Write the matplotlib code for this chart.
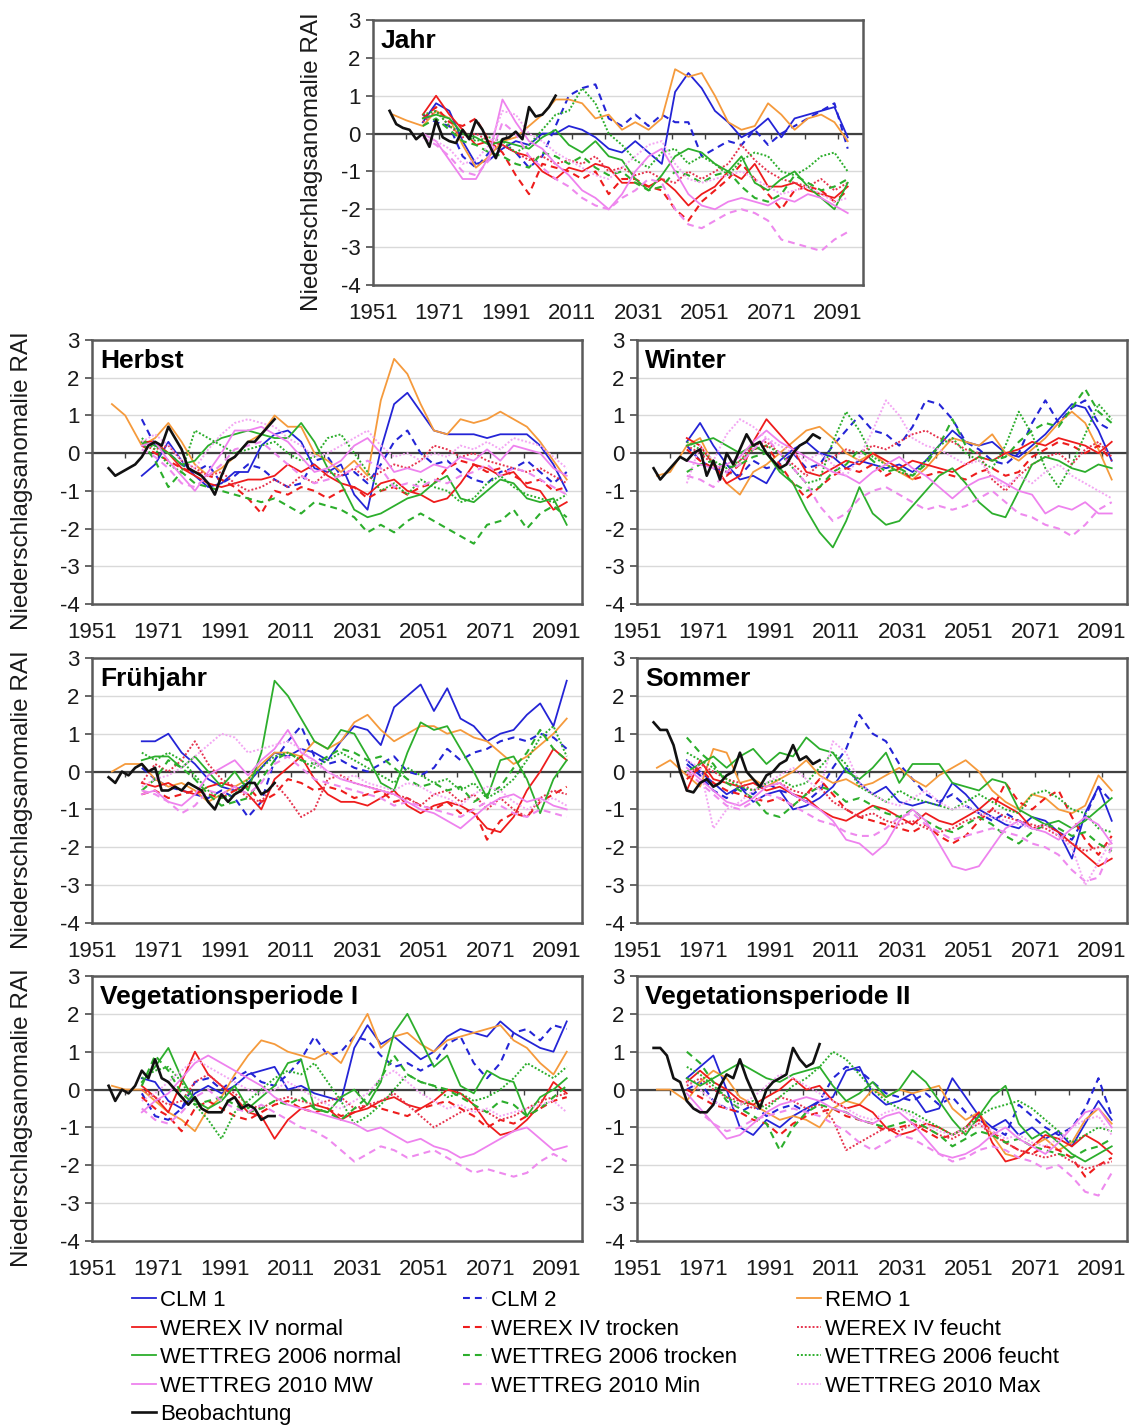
import numpy as np
import matplotlib.pyplot as plt
from matplotlib.lines import Line2D

plt.rcParams['font.family'] = ['Liberation Sans', 'DejaVu Sans']
plt.rcParams['axes.unicode_minus'] = False

# moving-average years: projections, REMO (starts earlier), observations
years = np.arange(1966, 2095, 4)
remo_years = np.concatenate([[1957, 1961], years])
obs_years = np.arange(1956, 2007, 2)

# ---------------- Jahr ----------------
jahr_clm1 = [0.3, 0.8, 0.6, -0.2, -0.8, -0.7, -0.4, -0.2, -0.3, 0.0, 0.0,
             0.2, 0.1, -0.1, -0.4, -0.5, -0.2, -0.5, -0.8, 1.1, 1.6, 1.2,
             0.6, 0.3, -0.1, 0.1, 0.4, -0.1, 0.4, 0.5, 0.6, 0.7, -0.1]
jahr_clm2 = [0.5, 0.3, 0.2, -0.6, -0.9, -0.5, -0.3, -0.5, -0.9, -0.6, 0.2,
             1.0, 1.2, 1.3, 0.4, 0.2, 0.5, 0.2, 0.5, 0.3, 0.3, -0.6,
             -0.4, -0.2, -0.3, 0.1, -0.3, 0.0, 0.2, 0.4, 0.6, 0.8, -0.4]
jahr_remo = [0.5, 0.35,
             0.2, 0.6, 0.4, -0.3, -0.9, -0.6, -0.2, -0.1, 0.2, 0.5, 0.9,
             0.9, 0.8, 0.4, 0.5, 0.1, 0.3, 0.1, 0.4, 1.7, 1.5, 1.6,
             1.0, 0.3, 0.1, 0.2, 0.8, 0.5, 0.1, 0.4, 0.5, 0.3, -0.2]
jahr_werex_n = [0.5, 1.0, 0.5, 0.1, -0.3, -0.2, -0.3, -0.5, -0.6, -1.0, -1.2,
                -0.9, -1.0, -0.8, -0.9, -1.3, -1.3, -1.4, -1.2, -1.5, -1.9, -1.6,
                -1.4, -1.0, -1.2, -0.8, -1.4, -1.4, -1.3, -1.5, -1.6, -1.7, -1.4]
jahr_werex_t = [0.4, 0.7, 0.3, 0.2, 0.4, -0.2, -0.5, -1.1, -1.6, -0.8, -0.9,
                -1.0, -1.2, -1.0, -1.6, -1.2, -1.2, -1.4, -1.5, -2.0, -2.3, -1.8,
                -1.5, -1.2, -0.8, -1.2, -1.6, -2.0, -1.5, -1.4, -1.5, -1.8, -1.5]
jahr_werex_f = [0.3, 0.6, 0.2, -0.1, 0.0, -0.2, -0.3, -0.5, -0.7, -0.6, -0.8,
                -0.7, -0.8, -0.6, -1.0, -0.9, -1.1, -1.0, -1.2, -1.3, -1.0, -1.2,
                -1.0, -0.8, -0.3, -0.7, -1.0, -1.2, -1.3, -1.4, -1.2, -1.5, -1.3]
jahr_w06_n = [0.4, 0.5, 0.4, 0.0, -0.1, -0.3, -0.2, -0.3, -0.4, -0.1, 0.1,
              -0.3, -0.5, -0.2, -0.6, -0.7, -1.2, -1.5, -1.1, -0.6, -0.4, -0.5,
              -0.8, -1.0, -0.6, -1.3, -1.5, -1.2, -1.0, -1.4, -1.7, -2.0, -1.3]
jahr_w06_t = [0.2, 0.4, 0.1, -0.2, -0.3, -0.5, -0.6, -0.8, -0.9, -0.5, -0.6,
              -0.8, -0.6, -0.9, -1.1, -1.0, -1.3, -1.5, -1.4, -1.0, -1.1, -1.3,
              -1.1, -1.0, -1.4, -1.7, -1.8, -1.6, -1.1, -1.3, -1.5, -1.4, -1.2]
jahr_w06_f = [0.5, 0.6, 0.2, 0.0, -0.2, -0.1, -0.2, -0.5, -0.3, 0.1, 0.5,
              0.6, 1.2, 0.8, 0.0, -0.3, -0.7, -0.9, -0.5, -0.4, -0.8, -0.6,
              -0.8, -1.1, -0.7, -0.5, -0.6, -1.0, -1.1, -0.9, -0.6, -0.5, -1.0]
jahr_w10_mw = [0.0, -0.2, -0.7, -1.2, -1.2, -0.6, 0.9, 0.3, -0.2, -0.4, -0.8,
               -1.1, -1.5, -1.7, -2.0, -1.6, -1.0, -0.6, -0.4, -1.0, -1.6, -1.9,
               -2.0, -1.8, -1.7, -1.8, -1.9, -1.7, -1.8, -1.6, -1.7, -1.9, -2.1]
jahr_w10_min = [-0.1, -0.3, -0.6, -1.0, -1.1, -0.7, 0.3, 0.0, -0.6, -0.9, -1.2,
                -1.4, -1.7, -1.9, -2.0, -1.7, -1.5, -1.2, -1.3, -2.0, -2.4, -2.5,
                -2.3, -2.1, -2.0, -2.1, -2.3, -2.8, -2.9, -3.0, -3.1, -2.8, -2.6]
jahr_w10_max = [0.0, -0.2, -0.4, -0.8, -0.7, -0.3, 0.6, 0.5, 0.0, -0.2, -0.5,
                -0.7, -0.9, -1.1, -1.2, -0.9, -0.6, -0.3, -0.2, -0.8, -1.2, -1.3,
                -1.2, -1.1, -1.0, -1.2, -1.4, -1.6, -1.5, -1.4, -1.6, -1.8, -1.7]
jahr_obs = [0.6, 0.25, 0.15, 0.1, -0.15, 0.0, -0.35, 0.35, -0.1, -0.2, -0.25, 0.1, -0.15,
            0.35, 0.1, -0.3, -0.65, -0.15, -0.1, 0.05, -0.15, 0.7, 0.45, 0.5, 0.7, 1.0]

# ---------------- Herbst ----------------
herbst_clm1 = [-0.6, -0.3, 0.3, -0.2, -0.6, -0.9, -0.8, -0.5, -0.5, 0.2, 0.5,
               0.6, 0.3, -0.4, -0.5, -0.3, -1.1, -1.5, 0.1, 1.3, 1.6, 1.1,
               0.6, 0.5, 0.5, 0.5, 0.4, 0.5, 0.5, 0.5, 0.2, -0.3, -1.0]
herbst_clm2 = [0.9, 0.2, 0.0, -0.3, -0.5, -0.3, -0.8, -0.6, -0.3, -0.4, -0.7,
               -0.9, -0.8, -0.2, -0.1, -0.6, -0.5, -0.8, -0.3, 0.3, 0.6, 0.0,
               -0.3, -0.2, -0.5, -0.7, -0.8, -0.5, -0.4, -0.2, -0.5, -0.8, -0.5]
herbst_remo = [1.3, 1.0,
               0.2, 0.4, 0.8, 0.3, -0.3, -0.6, -0.4, -0.1, 0.3, 0.5, 1.0,
               0.7, 0.7, 0.0, -0.2, -0.5, -0.2, -0.6, 1.4, 2.5, 2.1, 1.3,
               0.6, 0.5, 0.9, 0.8, 0.9, 1.1, 0.9, 0.7, 0.3, -0.2, -0.7]
herbst_werex_n = [0.3, 0.3, 0.0, -0.4, -0.6, -0.8, -0.9, -0.8, -0.7, -0.7, -0.6,
                  -0.3, -0.5, -0.3, -0.6, -0.8, -0.9, -1.1, -0.8, -0.7, -1.0, -1.1,
                  -1.3, -1.2, -0.8, -0.3, -0.4, -0.6, -0.5, -0.9, -1.0, -1.5, -1.3]
herbst_werex_t = [0.2, 0.0, -0.2, -0.4, -0.5, -0.6, -0.7, -0.9, -1.2, -1.6, -1.0,
                  -1.1, -0.9, -1.0, -1.2, -1.0, -0.9, -1.2, -1.0, -0.9, -1.1, -0.9,
                  -0.8, -0.4, -0.2, -0.3, -0.5, -0.4, -0.6, -0.8, -0.7, -1.0, -0.9]
herbst_werex_f = [0.2, 0.1, 0.2, -0.2, -0.4, -0.6, -0.5, -0.8, -1.0, -0.9, -0.7,
                  -0.9, -0.6, -0.8, -0.5, -0.6, -0.4, -0.7, -0.5, -0.3, -0.4, -0.2,
                  0.2, 0.1, -0.1, 0.0, -0.2, -0.3, -0.4, -0.5, -0.4, -0.6, -0.8]
herbst_w06_n = [0.3, 0.2, 0.0, -0.3, -0.2, 0.2, 0.4, 0.5, 0.6, 0.5, 0.4,
                0.4, 0.8, 0.3, -0.4, -0.8, -1.5, -1.7, -1.6, -1.4, -1.2, -1.1,
                -0.8, -0.6, -1.2, -1.3, -1.0, -0.7, -0.8, -1.2, -1.3, -1.2, -1.9]
herbst_w06_t = [0.3, -0.2, -0.9, -0.5, -0.8, -0.9, -1.0, -1.1, -1.2, -1.3, -1.2,
                -1.4, -1.6, -1.3, -1.4, -1.5, -1.7, -2.1, -1.9, -2.1, -1.8, -1.6,
                -1.8, -2.0, -2.2, -2.4, -1.9, -1.8, -1.5, -2.0, -1.6, -1.4, -1.7]
herbst_w06_f = [0.4, 0.1, -0.3, -0.5, 0.6, 0.4, 0.2, 0.0, 0.1, 0.2, 0.3,
                0.0, -0.2, -0.1, 0.4, 0.5, 0.0, -0.5, -1.0, -0.8, -1.1, -0.7,
                -0.9, -1.0, -1.3, -1.2, -0.8, -0.6, -0.9, -1.1, -1.2, -1.3, -1.1]
herbst_w10_mw = [0.2, 0.3, -0.2, -0.6, -1.0, -0.5, 0.0, 0.6, 0.6, 0.7, 0.5,
                 0.3, -0.1, -0.5, -0.4, -0.2, 0.2, 0.4, 0.0, -0.5, -0.4, -0.5,
                 -0.3, -0.4, -0.1, -0.2, 0.1, -0.2, 0.2, 0.1, 0.0, -0.4, -0.6]
herbst_w10_min = [0.1, -0.1, -0.4, -0.8, -0.9, -0.6, -0.3, 0.1, 0.2, 0.3, 0.0,
                  -0.3, -0.6, -0.8, -0.7, -0.6, -0.4, -0.2, -0.4, -0.9, -0.8, -0.9,
                  -0.7, -0.8, -0.6, -0.5, -0.3, -0.6, -0.4, -0.5, -0.7, -0.9, -1.1]
herbst_w10_max = [0.3, 0.5, 0.2, -0.2, -0.4, 0.1, 0.5, 0.8, 0.9, 0.8, 0.7,
                  0.4, 0.2, -0.1, 0.0, 0.2, 0.4, 0.6, 0.2, -0.1, 0.0, -0.2,
                  0.0, -0.1, 0.2, 0.1, 0.3, 0.1, 0.4, 0.3, 0.2, -0.1, -0.4]
herbst_obs = [-0.4, -0.6, -0.5, -0.4, -0.3, -0.1, 0.2, 0.3, 0.2, 0.7, 0.4, 0.1, -0.4,
              -0.5, -0.6, -0.8, -1.1, -0.6, -0.2, -0.1, 0.1, 0.3, 0.3, 0.5, 0.7, 0.9]

# ---------------- Winter ----------------
winter_clm1 = [0.3, 0.8, 0.2, -0.3, -0.7, -0.6, -0.8, -0.2, 0.1, 0.3, 0.0,
               -0.1, -0.4, -0.2, -0.3, -0.4, -0.3, -0.5, -0.2, 0.2, 0.6, 0.3,
               0.2, 0.3, 0.0, -0.1, 0.2, 0.5, 0.9, 1.3, 1.2, 0.6, -0.2]
winter_clm2 = [0.2, -0.2, -0.4, -0.5, -0.6, -0.2, -0.4, -0.3, 0.0, -0.4, -0.3,
               0.2, 0.6, 1.0, 0.6, 0.5, 0.2, 0.7, 1.4, 1.3, 0.9, 0.3,
               0.1, -0.2, -0.3, 0.0, 0.8, 1.4, 0.8, 1.2, 1.4, 0.8, 0.6]
winter_remo = [-0.6, -0.5,
               0.2, 0.4, -0.3, -0.8, -1.1, -0.5, -0.3, 0.0, 0.3, 0.6, 0.7,
               0.4, 0.0, -0.2, 0.0, -0.3, -0.5, -0.7, -0.4, 0.0, 0.4, 0.3,
               0.2, 0.5, 0.0, -0.2, 0.1, 0.4, 0.8, 1.1, 0.8, 0.1, -0.7]
winter_werex_n = [0.4, 0.2, -0.3, -0.8, -0.6, 0.3, 0.9, 0.5, 0.1, -0.5, -0.6,
                  -0.4, -0.2, -0.3, 0.0, -0.2, -0.4, -0.2, -0.3, -0.4, -0.5, -0.3,
                  -0.1, -0.2, 0.0, 0.1, 0.3, 0.2, 0.4, 0.3, 0.2, 0.0, 0.3]
winter_werex_t = [0.1, -0.2, -0.4, -0.6, -0.3, 0.1, 0.2, -0.3, -0.8, -1.2, -0.9,
                  -0.6, -0.4, -0.5, -0.3, -0.6, -0.4, -0.7, -0.6, -0.5, -0.6, -0.7,
                  -0.5, -0.4, -0.6, -0.5, -0.1, 0.1, 0.3, 0.2, 0.0, 0.2, -0.2]
winter_werex_f = [0.2, 0.0, -0.3, -0.5, -0.2, 0.2, 0.3, 0.0, -0.3, -0.6, -0.3,
                  -0.1, 0.1, 0.0, 0.2, 0.1, 0.3, 0.5, 0.6, 0.4, 0.3, 0.1,
                  0.0, -0.7, -1.0, -0.6, -0.3, -0.1, 0.0, -0.3, 0.1, 0.3, -0.1]
winter_w06_n = [0.2, 0.3, 0.4, 0.2, 0.0, 0.2, 0.0, -0.5, -0.8, -1.5, -2.1,
                -2.5, -1.8, -0.9, -1.6, -1.9, -1.8, -1.4, -1.0, -0.6, -0.4, -0.8,
                -1.3, -1.6, -1.7, -1.0, -0.3, -0.1, -0.2, -0.4, -0.5, -0.3, -0.4]
winter_w06_t = [-0.5, -0.3, -0.2, -0.4, -0.3, -0.1, 0.0, -0.4, -0.8, -1.0, -0.9,
                -0.5, -0.3, 0.1, -0.2, -0.5, -0.4, -0.6, -0.3, 0.2, 0.9, 0.2,
                -0.1, -0.2, -0.1, 0.3, 0.6, 0.8, 0.7, 1.2, 1.7, 1.1, 0.8]
winter_w06_f = [0.3, 0.1, -0.2, -0.4, -0.2, 0.1, 0.2, 0.0, -0.4, -0.8, -0.7,
                0.3, 1.1, 0.6, -0.1, -0.3, -0.5, -0.6, -0.2, 0.2, 0.4, 0.0,
                -0.2, -0.4, 0.2, 1.1, 0.5, -0.4, -0.9, -0.3, 0.5, 1.3, 0.9]
winter_w10_mw = [-0.2, -0.3, -0.4, -0.3, -0.1, 0.3, 0.6, 0.3, 0.1, -0.1, -0.3,
                 -0.5, -0.6, -0.8, -0.5, -0.3, -0.1, -0.4, -0.6, -0.9, -1.2, -0.9,
                 -0.7, -0.6, -0.8, -1.0, -1.1, -1.6, -1.4, -1.5, -1.3, -1.6, -1.6]
winter_w10_min = [-0.6, -0.7, -0.9, -0.5, -0.3, 0.1, 0.4, 0.0, -0.4, -0.8, -1.4,
                  -1.8, -1.6, -1.2, -1.0, -0.9, -1.1, -1.3, -1.5, -1.4, -1.5, -1.4,
                  -1.2, -1.0, -1.3, -1.6, -1.7, -1.9, -2.0, -2.2, -1.9, -1.5, -1.3]
winter_w10_max = [-0.8, 0.2, -0.2, 0.5, 0.9, 0.7, 0.4, 0.2, 0.0, -0.2, 0.0,
                  -0.3, -0.6, -0.1, 0.6, 1.4, 1.0, 0.4, 0.2, 0.1, -0.1, -0.3,
                  -0.2, -0.6, -0.9, -0.6, -0.8, -0.5, -0.3, -0.6, -0.8, -1.0, -1.2]
winter_obs = [-0.4, -0.7, -0.5, -0.3, -0.1, -0.2, 0.0, 0.1, -0.6, -0.2, -0.7, 0.0, -0.3,
              0.1, 0.5, 0.2, 0.3, 0.0, -0.2, -0.4, -0.3, 0.0, 0.2, 0.3, 0.5, 0.4]

# ---------------- Frühjahr ----------------
fruehjahr_clm1 = [0.8, 0.8, 1.0, 0.5, 0.2, -0.2, -0.4, -0.5, -0.3, 0.1, 0.5,
                  0.4, 0.6, 0.5, 0.3, 0.8, 1.2, 1.1, 0.7, 1.7, 2.0, 2.3,
                  1.6, 2.2, 1.4, 1.2, 0.8, 1.0, 1.1, 1.5, 1.8, 1.2, 2.4]
fruehjahr_clm2 = [0.1, -0.2, -0.4, -0.5, -0.6, -0.7, -0.5, -0.7, -1.2, -0.8, 0.3,
                  0.8, 1.2, 0.4, 0.2, 0.3, 0.1, 0.0, 0.2, 0.4, 0.0, -0.1,
                  0.1, 0.6, 0.3, 0.5, 0.6, 0.8, 0.9, 0.8, 1.0, 0.9, 0.6]
fruehjahr_remo = [0.0, 0.2,
                  0.2, -0.2, -0.4, -0.3, -0.5, -0.8, -0.6, -0.4, -0.2, 0.2, 0.5,
                  0.5, 0.4, 0.8, 0.6, 0.8, 1.3, 1.5, 1.1, 0.8, 1.0, 1.2,
                  1.2, 1.0, 1.1, 0.9, 0.8, 0.5, 0.2, 0.4, 0.7, 1.0, 1.4]
fruehjahr_werex_n = [-0.3, -0.4, -0.3, -0.5, -0.6, -0.4, -0.3, -0.4, -0.6, -1.0, -0.2,
                     0.1, 0.4, -0.2, -0.6, -0.8, -0.8, -0.9, -0.7, -0.5, -0.9, -1.1,
                     -0.9, -0.8, -0.9, -1.1, -1.5, -1.6, -1.2, -0.5, 0.0, 0.6, 0.3]
fruehjahr_werex_t = [-0.6, -0.5, -0.7, -0.6, -0.5, -0.6, -0.7, -0.5, -0.4, -0.8, -0.6,
                     -0.2, -0.3, -0.5, -0.4, -0.5, -0.7, -0.6, -0.5, -0.8, -0.7, -0.9,
                     -1.0, -0.8, -1.1, -1.0, -1.8, -1.3, -1.1, -1.2, -0.8, -0.6, -0.4]
fruehjahr_werex_f = [-0.3, 0.2, 0.0, 0.3, 0.8, 0.2, -0.2, -0.4, -0.7, -0.8, -0.3,
                     -0.7, -1.2, -1.0, -0.2, -0.1, -0.3, -0.4, -0.5, -0.6, -0.7, -0.9,
                     -0.6, -0.5, -0.8, -0.6, -1.0, -0.7, -1.0, -1.2, -0.7, -0.5, -0.6]
fruehjahr_w06_n = [0.3, 0.4, 0.4, 0.1, 0.4, 0.0, -0.4, 0.0, -0.5, 0.5, 2.4,
                   2.0, 1.4, 0.8, 0.6, 1.1, 1.0, 0.4, -0.3, -0.5, 0.5, 1.3,
                   1.1, 1.2, 0.6, 0.0, -0.7, 0.3, 0.4, -0.2, -1.1, -0.2, 0.3]
fruehjahr_w06_t = [-0.5, -0.2, 0.3, 0.1, -0.2, -0.6, -0.9, -0.8, -0.7, -0.2, 0.3,
                   0.5, 0.3, 0.2, 0.4, 0.6, 0.5, 0.3, 0.4, 0.1, -0.2, -0.4,
                   -0.3, -0.5, -0.4, -0.8, -0.6, -0.4, 0.1, 0.5, 1.1, 0.6, 0.3]
fruehjahr_w06_f = [0.5, 0.3, 0.5, 0.3, -0.1, -0.5, -0.7, -0.6, -0.2, 0.1, 0.4,
                   0.5, 0.3, 0.1, 0.3, 0.5, 0.3, 0.1, -0.1, -0.3, 0.1, -0.1,
                   -0.3, -0.2, -0.5, -0.3, -0.7, -0.5, -0.2, 0.3, 0.9, 1.2, 0.4]
fruehjahr_w10_mw = [-0.6, -0.5, -0.8, -0.9, -0.6, -0.1, 0.1, 0.3, -0.1, 0.3, 0.6,
                    1.1, 0.5, 0.3, 0.0, -0.2, -0.3, -0.4, -0.5, -0.6, -0.8, -1.0,
                    -1.1, -1.3, -1.5, -1.2, -0.9, -0.7, -0.6, -0.8, -0.7, -0.9, -1.0]
fruehjahr_w10_min = [-0.5, -0.6, -0.8, -1.1, -0.9, -0.5, -0.6, -0.4, -0.6, -0.3, 0.2,
                     0.4, 0.1, -0.2, -0.3, -0.4, -0.5, -0.6, -0.7, -0.9, -0.8, -0.9,
                     -1.0, -1.1, -1.2, -1.0, -0.8, -0.9, -1.1, -1.2, -1.0, -1.1, -1.2]
fruehjahr_w10_max = [-0.4, -0.2, -0.1, 0.1, 0.4, 0.7, 1.0, 0.9, 0.5, 0.6, 0.7,
                     0.8, 0.6, 0.2, 0.0, -0.2, -0.1, -0.3, -0.4, -0.5, -0.3, -0.4,
                     -0.6, -0.7, -0.9, -0.6, -0.4, -0.5, -0.8, -1.0, -0.8, -0.7, -0.9]
fruehjahr_obs = [-0.15, -0.3, 0.0, -0.1, 0.1, 0.2, 0.0, 0.1, -0.5, -0.5, -0.4, -0.5, -0.3,
                 -0.4, -0.5, -0.8, -1.0, -0.6, -0.8, -0.6, -0.5, -0.3, -0.3, -0.6, -0.5, -0.3]

# ---------------- Sommer ----------------
sommer_clm1 = [0.3, 0.0, -0.3, -0.6, -0.4, -0.8, -0.6, -0.5, -1.0, -0.9, -0.7,
               -0.4, 0.1, -0.3, -0.6, -0.4, -0.8, -0.9, -0.8, -0.9, -0.3, -0.6,
               -1.0, -1.2, -1.4, -1.5, -1.2, -1.3, -1.6, -2.3, -1.1, -0.4, -1.3]
sommer_clm2 = [0.2, -0.1, -0.5, -0.7, -0.4, -0.6, -0.3, -0.5, -0.6, -0.8, -0.5,
               0.1, 0.6, 1.5, 1.0, 0.8, 0.2, -0.2, -0.6, -0.8, -0.6, -0.9,
               -1.1, -1.3, -1.1, -1.3, -1.5, -1.4, -1.6, -1.8, -1.2, -0.4, -0.8]
sommer_remo = [0.1, 0.3,
               -0.1, -0.4, 0.6, 0.5, -0.3, -0.2, -0.4, -0.2, 0.0, 0.3, -0.1,
               -0.3, -0.2, -0.4, -0.3, -0.1, 0.1, -0.2, -0.4, -0.1, 0.1, 0.3,
               0.0, -0.5, -0.8, -1.0, -0.6, -0.7, -1.0, -1.1, -0.9, -0.1, -0.5]
sommer_werex_n = [-0.5, 0.3, -0.2, -0.3, -0.4, -0.3, -0.5, -0.4, -0.6, -0.7, -1.0,
                  -1.2, -1.3, -1.1, -0.9, -1.0, -1.2, -1.4, -1.1, -1.3, -1.4, -1.2,
                  -1.0, -0.7, -0.9, -1.1, -1.5, -1.4, -1.6, -1.9, -2.2, -2.5, -2.3]
sommer_werex_t = [-0.2, 0.1, -0.3, -0.5, -0.6, -0.7, -0.8, -0.7, -0.9, -0.6, -0.2,
                  -0.6, -1.0, -1.2, -1.3, -1.4, -1.5, -1.6, -1.4, -1.7, -1.9, -1.7,
                  -1.3, -1.0, -0.3, -0.8, -1.0, -0.7, -0.5, -1.2, -1.8, -2.2, -1.7]
sommer_werex_f = [-0.1, 0.2, 0.0, -0.2, -0.3, -0.5, -0.4, -0.3, -0.5, -0.6, -0.4,
                  -0.8, -1.0, -1.2, -1.1, -1.3, -1.4, -1.3, -1.5, -1.6, -1.5, -1.3,
                  -1.2, -1.0, -1.2, -1.3, -1.4, -1.5, -1.7, -1.9, -2.1, -2.0, -1.9]
sommer_w06_n = [0.0, 0.2, 0.4, 0.1, 0.4, 0.6, 0.2, 0.5, 0.4, 0.9, 0.6,
                0.5, 0.0, -0.2, 0.1, 0.5, -0.3, 0.2, 0.2, 0.2, -0.3, -0.4,
                -0.5, -0.2, -0.3, -1.0, -1.2, -1.4, -1.3, -1.5, -1.3, -1.0, -0.7]
sommer_w06_t = [0.9, 0.5, 0.2, -0.3, -0.5, -0.7, -1.1, -1.2, -0.9, -0.6, -0.4,
                -0.5, -0.8, -0.7, -0.9, -1.1, -1.2, -1.0, -1.3, -1.5, -1.6, -1.4,
                -1.2, -1.4, -1.7, -1.9, -1.6, -1.4, -1.5, -1.7, -1.6, -1.9, -2.1]
sommer_w06_f = [0.5, 0.3, 0.1, -0.2, -0.4, -0.5, -0.3, -0.2, -0.4, -0.3, 0.1,
                0.5, 0.2, -0.4, -0.6, -0.8, -0.5, -0.7, -0.8, -0.9, -1.0, -0.8,
                -0.6, -0.8, -1.0, -1.1, -0.6, -0.5, -0.7, -1.0, -1.1, -1.5, -1.6]
sommer_w10_mw = [0.1, -0.2, -0.5, -0.8, -0.9, -0.7, -0.4, -0.3, -0.6, -0.8, -1.0,
                 -1.3, -1.8, -1.9, -2.2, -1.9, -1.3, -1.0, -1.3, -1.9, -2.5, -2.6,
                 -2.5, -2.0, -1.5, -1.3, -1.5, -1.6, -1.8, -1.5, -1.2, -1.4, -1.9]
sommer_w10_min = [0.0, -0.3, -0.6, -0.9, -1.0, -0.8, -0.6, -0.7, -0.9, -1.1, -1.3,
                  -1.4, -1.6, -1.7, -1.7, -1.5, -1.2, -1.1, -1.4, -1.6, -1.8, -1.7,
                  -1.6, -1.5, -1.6, -1.7, -1.9, -2.0, -2.2, -2.6, -2.9, -2.8, -2.0]
sommer_w10_max = [0.3, 0.1, -1.5, -1.0, -0.8, -0.5, -0.3, -0.1, 0.1, -0.2, -0.5,
                  0.8, 0.5, -0.3, -0.6, -0.8, -0.9, -0.7, -0.5, -0.8, -1.0, -0.9,
                  -1.1, -1.2, -1.3, -1.4, -1.5, -1.4, -1.7, -2.0, -3.0, -2.4, -1.8]
sommer_obs = [1.3, 1.1, 1.1, 0.7, 0.0, -0.5, -0.55, -0.3, -0.2, -0.4, -0.3, -0.1, 0.0,
              0.5, 0.0, -0.2, -0.4, -0.1, 0.0, 0.2, 0.3, 0.7, 0.3, 0.4, 0.2, 0.3]

# ---------------- Vegetationsperiode I ----------------
veg1_clm1 = [0.3, 0.2, -0.3, -0.5, -0.1, 0.1, -0.1, 0.1, 0.4, 0.5, 0.6,
             0.0, 0.1, -0.1, -0.2, -0.3, 1.1, 1.7, 1.2, 1.4, 1.1, 0.8,
             1.0, 1.4, 1.6, 1.5, 1.4, 1.8, 1.5, 1.3, 1.1, 1.0, 1.8]
veg1_clm2 = [-0.1, -0.7, -0.8, -0.5, 0.2, 0.3, 0.0, 0.3, 0.5, 0.2, 0.1,
             0.4, 0.8, 1.4, 0.9, 1.0, 1.4, 1.3, 0.9, 0.6, 0.7, 0.5,
             0.7, 1.2, 1.4, 0.7, 0.3, 0.7, 1.5, 1.6, 1.3, 1.7, 1.6]
veg1_remo = [0.1, 0.0,
             0.0, -0.3, -0.6, -0.8, -1.1, -0.5, -0.2, 0.4, 0.9, 1.3, 1.2,
             1.0, 0.9, 0.8, 1.0, 0.7, 1.4, 2.0, 1.1, 1.4, 1.5, 1.2,
             1.0, 1.3, 1.4, 1.5, 1.6, 1.7, 1.3, 1.1, 0.7, 0.4, 1.0]
veg1_werex_n = [0.1, -0.2, -0.6, 0.2, 1.0, 0.4, 0.1, -0.2, -0.6, -0.7, -1.3,
                -0.8, -0.5, -0.4, -0.5, -0.8, -0.6, -0.5, -0.3, -0.2, -0.4, -0.5,
                -0.3, 0.0, -0.1, -0.4, -0.9, -1.2, -1.1, -0.8, -0.4, 0.2, -0.1]
veg1_werex_t = [-0.2, -0.5, -0.7, -1.1, -0.5, -0.3, -0.5, -0.7, -0.8, -0.6, -0.4,
                -0.3, -0.5, -0.6, -0.5, -0.7, -0.6, -0.4, -0.5, -0.6, -0.7, -0.5,
                -0.4, -0.3, -0.5, -0.7, -1.0, -0.8, -0.9, -0.7, -0.5, -0.3, -0.2]
veg1_werex_f = [0.0, -0.2, -0.4, -0.3, 0.2, 0.4, 0.1, -0.1, -0.4, -0.5, -0.3,
                -0.2, -0.3, -0.4, -0.3, -0.2, -0.5, -0.4, -0.3, -0.1, -0.4, -0.7,
                -1.0, -0.8, -0.6, -0.5, -0.6, -0.8, -0.7, -0.5, -0.3, -0.2, -0.1]
veg1_w06_n = [0.2, 0.6, 1.1, 0.3, -0.3, -0.5, -0.3, 0.1, -0.5, -0.2, 0.1,
              0.7, 0.8, -0.5, -0.6, -0.2, 0.0, -0.4, 0.2, 1.5, 2.0, 1.3,
              0.6, 0.9, 0.1, -0.1, 0.5, 0.3, 0.2, -0.7, -0.2, 0.0, 0.3]
veg1_w06_t = [0.1, 0.9, 0.5, -0.1, -0.4, -0.3, -0.2, -0.4, -0.6, -0.5, -0.3,
              -0.4, -0.2, -0.5, -0.6, -0.8, -0.5, -0.2, 0.3, 0.9, 0.4, 0.2,
              0.1, 0.0, -0.2, -0.4, -0.6, -0.3, -0.4, -0.7, -0.5, -0.2, 0.1]
veg1_w06_f = [0.3, 0.5, 0.6, 0.2, -0.4, -0.8, -1.3, -0.6, -0.3, 0.0, 0.3,
              0.5, 0.4, 0.7, 0.2, -0.3, -0.9, -0.7, -0.4, 0.0, 0.4, 0.2,
              0.1, -0.2, -0.1, -0.3, -0.2, 0.0, 0.3, 0.7, 0.5, 0.3, 0.6]
veg1_w10_mw = [-0.6, -0.3, -0.1, 0.3, 0.7, 0.9, 0.7, 0.5, 0.3, 0.1, -0.2,
               -0.4, -0.5, -0.6, -0.7, -0.8, -0.9, -1.1, -1.0, -1.2, -1.4, -1.3,
               -1.5, -1.6, -1.8, -1.7, -1.5, -1.3, -1.1, -1.0, -1.3, -1.6, -1.5]
veg1_w10_min = [-0.5, -0.8, -0.9, -0.6, -0.2, 0.0, -0.3, -0.5, -0.6, -0.4, -0.6,
                -0.8, -1.0, -1.1, -1.3, -1.6, -1.9, -1.7, -1.5, -1.6, -1.8, -1.7,
                -1.6, -1.8, -2.0, -2.2, -2.1, -2.2, -2.3, -2.2, -1.9, -1.7, -1.9]
veg1_w10_max = [-0.3, -0.1, 0.2, 0.5, 0.8, 0.6, 0.4, 0.2, 0.0, -0.1, 0.0,
                0.2, 0.0, -0.2, -0.4, -0.5, -0.3, -0.1, 0.3, 0.5, 0.2, -0.1,
                -0.3, -0.5, -0.4, -0.6, -0.5, -0.7, -0.6, -0.5, -0.4, -0.3, -0.6]
veg1_obs = [0.1, -0.3, 0.0, -0.1, 0.1, 0.5, 0.3, 0.8, 0.3, 0.2, 0.0, -0.2, -0.4,
            -0.2, -0.5, -0.6, -0.6, -0.6, -0.3, -0.2, -0.5, -0.4, -0.5, -0.8, -0.7, -0.7]

# ---------------- Vegetationsperiode II ----------------
veg2_clm1 = [0.3, 0.6, 0.9, 0.0, -1.0, -1.2, -0.8, -1.0, -0.7, -0.5, -0.3,
             -0.2, 0.5, 0.6, -0.1, -0.4, -0.3, -0.1, -0.6, -0.5, 0.3, -0.2,
             -0.7, -1.0, -0.8, -1.2, -1.0, -1.3, -1.1, -1.5, -0.9, -0.3, -0.8]
veg2_clm2 = [0.0, 0.2, -0.3, -0.5, -0.6, -0.4, -0.7, -0.5, -0.4, -0.6, -0.3,
             0.3, 0.6, 0.5, 0.2, -0.1, -0.2, -0.3, -0.1, -0.4, -0.2, -0.6,
             -0.8, -1.0, -1.2, -0.4, -0.7, -1.0, -1.2, -1.0, -0.5, 0.3, -0.7]
veg2_remo = [0.0, 0.0,
             -0.3, 0.2, 0.5, 0.3, -0.2, -0.4, -0.6, -0.8, -0.7, -0.8, -1.0,
             -0.5, -0.3, -0.4, 0.0, -0.2, 0.0, -0.1, 0.0, 0.1, -0.5, -0.8,
             -0.6, -1.2, -1.7, -1.8, -1.5, -1.3, -1.6, -1.4, -0.8, -0.5, -0.9]
veg2_werex_n = [0.2, 0.5, 0.2, 0.0, -0.3, -0.4, -0.2, 0.0, 0.3, 0.0, 0.1,
                -0.3, -0.5, -0.4, -0.6, -1.0, -1.2, -1.1, -0.9, -1.0, -1.2, -1.0,
                -0.6, -1.4, -1.9, -1.8, -1.5, -1.2, -1.3, -1.5, -1.2, -1.4, -1.7]
veg2_werex_t = [0.0, -0.2, -0.4, -0.5, -0.6, -0.8, -0.9, -1.2, -0.9, -0.7, -0.6,
                -0.5, -0.7, -0.8, -0.9, -1.1, -1.0, -0.9, -1.1, -1.3, -1.2, -1.0,
                -0.8, -1.1, -1.4, -1.6, -1.7, -1.5, -1.6, -1.8, -2.3, -2.0, -1.8]
veg2_werex_f = [0.1, 0.3, 0.0, -0.2, -0.3, -0.5, -0.4, -0.2, -0.3, -0.5, -0.4,
                -0.8, -1.6, -1.4, -1.2, -1.0, -1.1, -0.9, -1.0, -1.2, -1.3, -1.1,
                -0.9, -1.2, -1.4, -1.6, -1.7, -1.8, -1.7, -1.9, -2.1, -2.0, -1.9]
veg2_w06_n = [0.3, 0.1, 0.3, 0.5, 0.7, 0.5, 0.3, 0.2, 0.4, 0.5, 0.6,
              0.1, -0.3, -0.1, 0.2, -0.2, 0.0, 0.5, 0.2, -0.3, -0.8, -1.2,
              -0.7, -0.2, 0.1, -0.9, -1.3, -1.1, -1.4, -1.7, -1.9, -1.7, -1.5]
veg2_w06_t = [1.0, 0.7, 0.2, -0.3, -0.5, -0.7, -0.9, -1.6, -1.0, -0.6, -0.4,
              -0.5, -0.6, -0.8, -0.9, -1.0, -0.9, -0.8, -1.0, -1.2, -1.5, -1.3,
              -1.1, -1.2, -1.4, -1.3, -1.5, -1.6, -1.7, -1.8, -1.6, -1.5, -1.3]
veg2_w06_f = [0.6, 0.4, 0.1, -0.2, -0.4, -0.3, -0.5, -0.2, 0.1, 0.3, 0.6,
              1.0, 0.8, 0.4, 0.0, -0.3, -0.5, -0.6, -0.8, -1.0, -1.2, -1.0,
              -0.7, -0.5, -0.4, -0.3, -0.5, -0.8, -1.1, -1.4, -1.2, -1.0, -1.1]
veg2_w10_mw = [-0.1, -0.5, -0.9, -1.3, -1.2, -0.9, -0.6, -0.4, -0.3, -0.2, -0.3,
               -0.5, -0.6, -0.8, -0.9, -0.7, -0.6, -0.9, -1.3, -1.7, -1.8, -1.7,
               -1.5, -1.2, -1.0, -1.3, -1.5, -1.7, -1.4, -1.0, -0.6, -0.5, -1.0]
veg2_w10_min = [-0.3, -0.6, -0.9, -1.1, -1.0, -0.8, -0.7, -0.6, -0.5, -0.6, -0.7,
                -0.9, -1.1, -1.4, -1.6, -1.4, -1.2, -1.3, -1.5, -1.7, -1.9, -1.8,
                -1.6, -1.5, -1.6, -1.8, -1.9, -2.1, -2.0, -2.3, -2.7, -2.8, -2.2]
veg2_w10_max = [0.2, 0.0, -0.3, -0.5, -0.4, -0.2, 0.1, 0.4, 0.3, 0.1, -0.1,
                -0.3, -0.5, -0.7, -0.8, -0.6, -0.5, -0.7, -0.9, -1.1, -1.2, -1.0,
                -0.9, -1.1, -1.3, -1.2, -1.4, -1.5, -1.3, -1.0, -0.8, -0.7, -1.2]
veg2_obs = [1.1, 1.1, 0.9, 0.3, 0.2, -0.3, -0.5, -0.6, -0.6, -0.4, 0.1, 0.4, 0.3,
            0.8, 0.3, -0.1, -0.5, 0.0, 0.2, 0.3, 0.4, 1.1, 0.8, 0.6, 0.7, 1.2]

# series styles: label, colour, dash pattern, line width, x-years
dash = (0, (3.3, 2.4))
dot = (0, (1, 1))
styles = [
    ('CLM 1', '#2424d6', '-', 1.3, years),
    ('CLM 2', '#2424d6', dash, 1.5, years),
    ('REMO 1', '#f59a3c', '-', 1.3, remo_years),
    ('WEREX IV normal', '#ee1c1c', '-', 1.3, years),
    ('WEREX IV trocken', '#ee1c1c', dash, 1.5, years),
    ('WEREX IV feucht', '#e6344e', dot, 1.4, years),
    ('WETTREG 2006 normal', '#2cae2c', '-', 1.3, years),
    ('WETTREG 2006 trocken', '#2cae2c', dash, 1.5, years),
    ('WETTREG 2006 feucht', '#2cae2c', dot, 1.4, years),
    ('WETTREG 2010 MW', '#ee82ee', '-', 1.3, years),
    ('WETTREG 2010 Min', '#ee8aee', dash, 1.5, years),
    ('WETTREG 2010 Max', '#f3a6f3', dot, 1.4, years),
    ('Beobachtung', '#111111', '-', 1.9, obs_years),
]

def panel_data(prefix):
    g = globals()
    keys = ['clm1', 'clm2', 'remo', 'werex_n', 'werex_t', 'werex_f',
            'w06_n', 'w06_t', 'w06_f', 'w10_mw', 'w10_min', 'w10_max', 'obs']
    return [g[f'{prefix}_{k}'] for k in keys]

# panel boxes in pixels: left, top, right, bottom; x of the y-label (None = no label)
panels = [
    ('Jahr', 'jahr', (373, 20, 863, 285), 312),
    ('Herbst', 'herbst', (92, 340, 582, 604), 22),
    ('Winter', 'winter', (637, 340, 1127, 604), None),
    ('Frühjahr', 'fruehjahr', (92, 658, 582, 923), 22),
    ('Sommer', 'sommer', (637, 658, 1127, 923), None),
    ('Vegetationsperiode I', 'veg1', (92, 976, 582, 1241), 22),
    ('Vegetationsperiode II', 'veg2', (637, 976, 1127, 1241), None),
]

W, H = 1129, 1428
fig = plt.figure(figsize=(W / 100, H / 100), dpi=100)
frame = '#5a5a5a'

for title, prefix, (l, t, r, b), ylab_x in panels:
    ax = fig.add_axes([l / W, 1 - b / H, (r - l) / W, (b - t) / H])
    for (label, color, ls, lw, xs), vals in zip(styles, panel_data(prefix)):
        ax.plot(xs, vals, color=color, linestyle=ls, linewidth=lw, label=label)

    ax.set_xlim(1951, 2098.6)
    ax.set_ylim(-4, 3)
    ax.set_yticks(range(-4, 4))
    ax.set_xticks(range(1951, 2092, 20))
    ax.grid(axis='y', color='#d9d9d9', linewidth=1.0)
    ax.set_axisbelow(True)
    ax.tick_params(axis='x', length=0, pad=13, labelsize=16, labelcolor='#1a1a1a')
    ax.tick_params(axis='y', length=5, width=1.3, color=frame, pad=4,
                   labelsize=16, labelcolor='#1a1a1a')
    for sp in ax.spines.values():
        sp.set_color(frame)
        sp.set_linewidth(1.8)

    # category axis crossing at zero
    zero = ax.secondary_xaxis(4 / 7)
    zero.set_alignment('bottom')
    zero.set_xticks(range(1961, 2092, 10))
    zero.tick_params(length=3.5, width=1.0, color='#404040', labelbottom=False)
    zero.spines['bottom'].set_color('#404040')
    zero.spines['bottom'].set_linewidth(1.6)
    zero.set_zorder(1)

    ax.text(0.016, 0.92, title, transform=ax.transAxes, fontsize=19,
            fontweight='bold', ha='left', va='center')

    if ylab_x is not None:
        fig.text(ylab_x / W, 1 - ((t + b) / 2 + 9) / H, 'Niederschlagsanomalie RAI',
                 rotation=90, ha='center', va='center', fontsize=17.5, color='#1a1a1a')

# legend in three columns below the panels
handles = [Line2D([], [], color=c, linestyle=ls, linewidth=lw) for _, c, ls, lw, _ in styles]
labels = [s[0] for s in styles]
columns = [[0, 3, 6, 9, 12], [1, 4, 7, 10], [2, 5, 8, 11]]
col_x = [132, 463, 797]
for idx, x0 in zip(columns, col_x):
    fig.legend([handles[i] for i in idx], [labels[i] for i in idx],
               loc='upper left', bbox_to_anchor=(x0 / W, 1 - 1290 / H),
               frameon=False, fontsize=16, handlelength=1.1, handletextpad=0.15,
               labelspacing=0.34, borderpad=0, borderaxespad=0)

fig.savefig('out.png', dpi=100)
